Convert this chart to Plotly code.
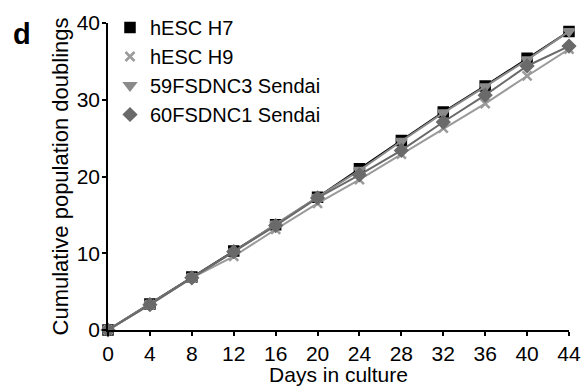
import plotly.graph_objects as go

days = [0, 4, 8, 12, 16, 20, 24, 28, 32, 36, 40, 44]
h7 = [0, 3.4, 6.9, 10.3, 13.7, 17.3, 21.0, 24.7, 28.4, 31.8, 35.4, 38.9]
h9 = [0, 3.3, 6.8, 9.6, 13.1, 16.5, 19.6, 22.9, 26.3, 29.5, 33.1, 36.6]
fsdnc3 = [0, 3.4, 6.9, 10.2, 13.8, 17.3, 20.8, 24.6, 28.3, 31.7, 35.2, 38.9]
fsdnc1 = [0, 3.3, 6.8, 10.2, 13.6, 17.2, 20.2, 23.4, 27.1, 30.6, 34.4, 37.0]

series = [
    ("hESC H7", h7, "#000000", "square"),
    ("hESC H9", h9, "#9a9a9a", "x-thin-open"),
    ("59FSDNC3 Sendai", fsdnc3, "#8a8a8a", "triangle-down"),
    ("60FSDNC1 Sendai", fsdnc1, "#6a6a6a", "diamond"),
]

FONT = "Liberation Sans, Arial, sans-serif"
axis_font = dict(family=FONT, size=21, color="black")

fig = go.Figure()
for name, vals, color, sym in series:
    fig.add_trace(go.Scatter(
        x=days, y=vals, name=name, mode="lines+markers", showlegend=False,
        line=dict(color=color, width=2),
        marker=dict(symbol=sym, size=9, color=color,
                    line=dict(color=color, width=2.5)),
        cliponaxis=False,
    ))
# legend entries: marker symbols only
for name, vals, color, sym in series:
    fig.add_trace(go.Scatter(
        x=[None], y=[None], name=name, mode="markers", showlegend=True,
        marker=dict(symbol=sym, size=9, color=color,
                    line=dict(color=color, width=2.5)),
    ))

W, H = 584, 386
L, R, T, B = 108, 15, 23, 56
pw, ph = W - L - R, H - T - B

fig.update_layout(
    width=W, height=H,
    margin=dict(l=L, r=R, t=T, b=B, autoexpand=False),
    paper_bgcolor="white", plot_bgcolor="white",
    font=axis_font,
    showlegend=True,
    legend=dict(x=(110 - L) / pw, y=1 - (8 - T) / ph, xanchor="left",
                yanchor="top", bgcolor="rgba(0,0,0,0)", itemwidth=30,
                font=dict(family=FONT, size=20, color="black"),
                tracegroupgap=0),
    xaxis=dict(range=[0, 44], tickvals=days, showline=True, linecolor="black",
               linewidth=1.5, ticks="outside", ticklen=4, tickwidth=1.5,
               tickcolor="black", showgrid=False, zeroline=False,
               title=dict(text="Days in culture", standoff=0, font=axis_font),
               tickfont=axis_font),
    yaxis=dict(range=[0, 40], tickvals=[0, 10, 20, 30, 40], showline=True,
               linecolor="black", linewidth=1.5, ticks="outside", ticklen=4,
               tickwidth=1.5, tickcolor="black", showgrid=False, zeroline=False,
               ticklabelstandoff=-2,
               title=dict(text="Cumulative population doublings", standoff=2,
                          font=dict(family=FONT, size=22, color="black")),
               tickfont=axis_font),
    annotations=[dict(text="<b>d</b>", x=(11 - L) / pw, y=1 - (34 - T) / ph,
                      xref="paper", yref="paper", xanchor="left",
                      yanchor="middle", showarrow=False,
                      font=dict(family=FONT, size=29, color="black"))],
)

fig.write_html("out.html")
